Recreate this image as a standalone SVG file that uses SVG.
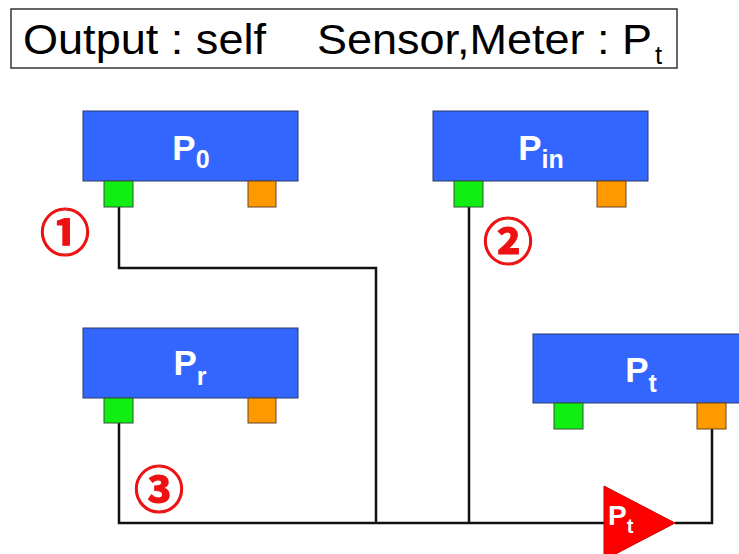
<svg xmlns="http://www.w3.org/2000/svg" width="739" height="554" viewBox="0 0 739 554">
<style>
.box{fill:#3366FF;stroke:#2a3a6a;stroke-width:1}
.in{fill:#11EE11;stroke:#335533;stroke-width:1}
.out{fill:#FF9900;stroke:#664422;stroke-width:1}
.lbl{font-family:"Liberation Sans",Arial,sans-serif;font-weight:bold;fill:#fff}
.big{font-size:35px}
.sub{font-size:25px}
.wire{fill:none;stroke:#111;stroke-width:2.5}
.num{font-family:"Noto Sans CJK JP","DejaVu Sans",sans-serif;font-size:50px;font-weight:bold;fill:#ee1111;stroke:#ee1111;stroke-width:1.2;text-anchor:middle}
.title{font-family:"Liberation Sans",Arial,sans-serif;fill:#000}
</style>
<rect width="739" height="554" fill="#fff"/>
<g id="title">
<rect x="11" y="9" width="666" height="59" fill="#fff" stroke="#333" stroke-width="1.5"/>
<text class="title" x="23" y="54" font-size="42" textLength="243" lengthAdjust="spacingAndGlyphs">Output : self</text>
<text class="title" x="317" y="54" font-size="42" textLength="335" lengthAdjust="spacingAndGlyphs">Sensor,Meter : P</text>
<text class="title" x="655" y="64" font-size="26">t</text>
</g>
<g id="connectors">
<polyline class="wire" points="119,207 119,268 376,268 376,523"/>
<line class="wire" x1="469" y1="207" x2="469" y2="523"/>
<polyline class="wire" points="119,423 119,523 604,523"/>
<polyline class="wire" points="675,523 712,523 712,429"/>
</g>
<g id="P0">
<rect class="box" x="83" y="111" width="215" height="70"/>
<rect class="in" x="104" y="181" width="29" height="26"/>
<rect class="out" x="248" y="181" width="28" height="26"/>
<text class="lbl" x="191" y="160" text-anchor="middle"><tspan class="big">P</tspan><tspan class="sub" dy="8">0</tspan></text>
</g>
<g id="Pin">
<rect class="box" x="433" y="111" width="215" height="70"/>
<rect class="in" x="454" y="181" width="29" height="26"/>
<rect class="out" x="597" y="181" width="29" height="26"/>
<text class="lbl" x="541" y="160" text-anchor="middle"><tspan class="big">P</tspan><tspan class="sub" dy="8">in</tspan></text>
</g>
<g id="Pr">
<rect class="box" x="83" y="328" width="215" height="70"/>
<rect class="in" x="104" y="398" width="29" height="25"/>
<rect class="out" x="248" y="398" width="28" height="25"/>
<text class="lbl" x="190" y="375" text-anchor="middle"><tspan class="big">P</tspan><tspan class="sub" dy="10">r</tspan></text>
</g>
<g id="Pt">
<rect class="box" x="533" y="334" width="215" height="69"/>
<rect class="in" x="554" y="403" width="29" height="26"/>
<rect class="out" x="697" y="403" width="29" height="26"/>
<text class="lbl" x="641" y="382" text-anchor="middle"><tspan class="big">P</tspan><tspan class="sub" dy="10">t</tspan></text>
</g>
<g id="meter">
<polygon points="604,486 675,523 604,560" fill="#FF0000" stroke="#cc0000" stroke-width="1"/>
<text class="lbl" x="608" y="525"><tspan font-size="28">P</tspan><tspan font-size="20" dy="8">t</tspan></text>
</g>
<g id="labels">
<text class="num" x="65" y="251">①</text>
<text class="num" x="508" y="260">②</text>
<text class="num" x="159" y="508">③</text>
</g>
</svg>
